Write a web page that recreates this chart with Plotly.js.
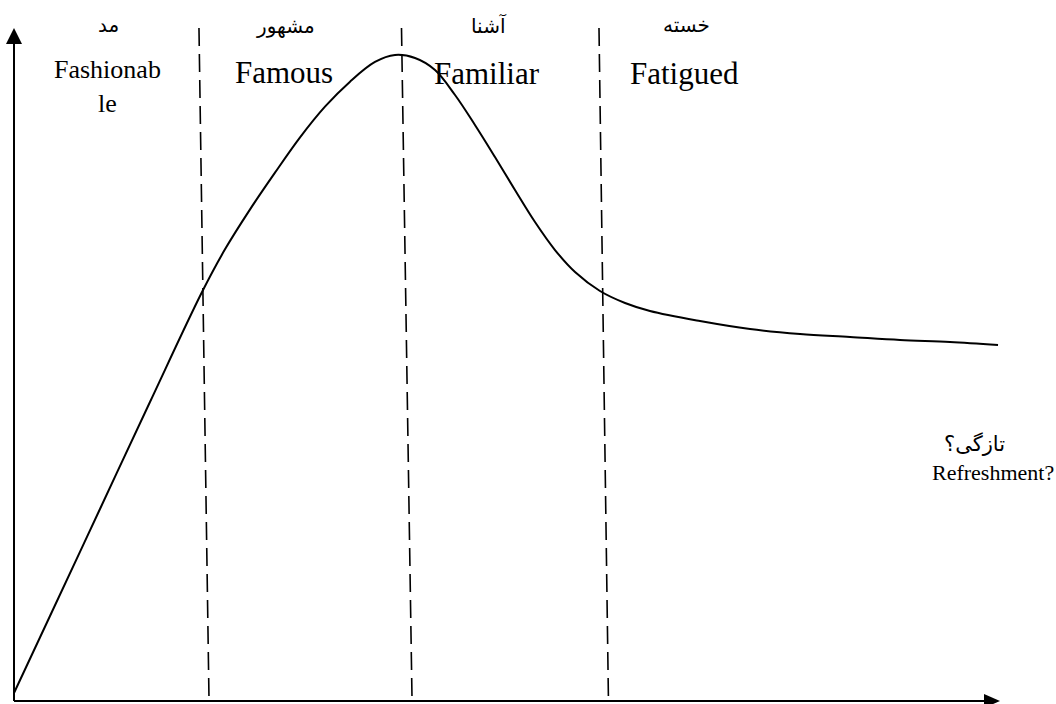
<!DOCTYPE html>
<html>
<head>
<meta charset="utf-8">
<script src="https://cdn.plot.ly/plotly-3.0.1.min.js"></script>
<style>html,body{margin:0;padding:0;background:#fff;}#chart{width:1056px;height:704px;}</style>
</head>
<body>
<div id="chart"></div>
<script>
// ---- data (conceptual units: time 0-100, popularity 0-100) ----
const curveX = [0, 3.65, 8.72, 13.79, 19.07, 21.40, 23.94, 26.47, 29.01, 31.54, 34.08, 36.61, 38.64, 40.67, 42.70, 44.73, 46.75, 48.78, 50.81, 52.84, 54.87, 56.90, 59.43, 61.97, 64.50, 69.57, 74.65, 79.72, 84.79, 89.86, 94.93, 99.80];
const curveY = [1.19, 12.63, 28.53, 44.43, 60.77, 67.11, 73.05, 78.50, 83.75, 88.31, 92.03, 94.95, 95.99, 95.54, 93.76, 90.04, 85.59, 80.83, 75.93, 71.17, 67.01, 63.74, 60.92, 59.14, 57.95, 56.46, 55.27, 54.53, 54.09, 53.64, 53.34, 52.90];
const boundaryTopX = [18.76, 39.30, 59.33];
const boundaryBottomX = [19.78, 40.37, 60.29];
const phaseEnglish = ["Fashionab<br>le", "Famous", "Familiar", "Fatigued"];
const phasePersian = ["مد", "مشهور", "آشنا", "خسته"];
const endEnglish = "Refreshment?";
const endPersian = "تازگی؟";

// ---- layout constants ----
const W = 1056, H = 704;
const ox = 14, oy = 701, sx = 9.86, sy = 6.73; // pixel origin & px per unit
const xr = [-ox / sx, (W - ox) / sx];
const yr = [(oy - H) / sy, oy / sy];
const px2x = p => (p - ox) / sx;
const px2y = p => (oy - p) / sy;

const serif = "Liberation Serif, Times New Roman, serif";
const arab = "DejaVu Sans, Noto Sans, sans-serif";

const shapes = [];
for (let i = 0; i < boundaryTopX.length; i++) {
  shapes.push({type: 'line', xref: 'x', yref: 'y', x0: boundaryTopX[i], y0: 100, x1: boundaryBottomX[i], y1: 0,
    line: {color: 'black', width: 1.6, dash: '18px,8px'}});
}
// axes
shapes.push({type: 'line', xref: 'x', yref: 'y', x0: 0, y0: 0, x1: 0, y1: 99, line: {color: 'black', width: 2}});
shapes.push({type: 'line', xref: 'x', yref: 'y', x0: 0, y0: 0, x1: 99.5, y1: 0, line: {color: 'black', width: 2}});
shapes.push({type: 'path', xref: 'x', yref: 'y', xsizemode: 'pixel', ysizemode: 'pixel', xanchor: 0, yanchor: 100,
  path: 'M -8 -16 L 8 -16 L 0 0 Z', fillcolor: 'black', line: {width: 0}});
shapes.push({type: 'path', xref: 'x', yref: 'y', xsizemode: 'pixel', ysizemode: 'pixel', xanchor: 100, yanchor: 0,
  path: 'M -16 -7 L -16 7 L 0 0 Z', fillcolor: 'black', line: {width: 0}});

const engPos = [[107, 86], [284, 72], [487, 73], [684, 73]];
const engSize = [26, 31, 31, 31];
const perPos = [[108, 25], [285, 26], [489, 25], [686, 25]];

const annotations = [];
for (let i = 0; i < phaseEnglish.length; i++) {
  annotations.push({xref: 'x', yref: 'y', x: px2x(engPos[i][0]), y: px2y(engPos[i][1]), text: phaseEnglish[i],
    showarrow: false, xanchor: 'center', yanchor: 'middle', font: {family: serif, size: engSize[i], color: 'black'}});
  annotations.push({xref: 'x', yref: 'y', x: px2x(perPos[i][0]), y: px2y(perPos[i][1]), text: phasePersian[i],
    showarrow: false, xanchor: 'center', yanchor: 'middle', font: {family: arab, size: 20, color: 'black'}});
}
annotations.push({xref: 'x', yref: 'y', x: px2x(974), y: px2y(444), text: endPersian, showarrow: false,
  xanchor: 'center', yanchor: 'middle', font: {family: arab, size: 21, color: 'black'}});
annotations.push({xref: 'x', yref: 'y', x: px2x(993), y: px2y(472), text: endEnglish, showarrow: false,
  xanchor: 'center', yanchor: 'middle', font: {family: serif, size: 22, color: 'black'}});

const trace = {x: curveX, y: curveY, type: 'scatter', mode: 'lines',
  line: {color: 'black', width: 2, shape: 'spline', smoothing: 1}, hoverinfo: 'skip'};

const axisBase = {showgrid: false, zeroline: false, showticklabels: false, ticks: '', showline: false, fixedrange: true};
const layout = {
  width: W, height: H,
  margin: {l: 0, r: 0, t: 0, b: 0, pad: 0},
  paper_bgcolor: 'white', plot_bgcolor: 'white',
  showlegend: false,
  xaxis: Object.assign({range: xr}, axisBase),
  yaxis: Object.assign({range: yr}, axisBase),
  shapes: shapes,
  annotations: annotations
};
Plotly.newPlot('chart', [trace], layout, {displayModeBar: false, staticPlot: true});
</script>
</body>
</html>
